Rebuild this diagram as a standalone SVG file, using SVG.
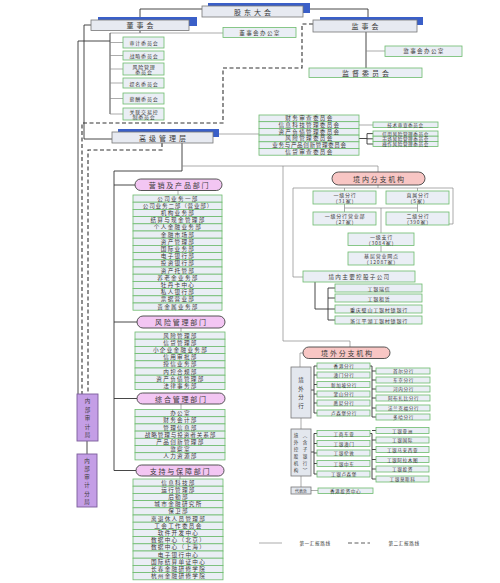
<svg xmlns="http://www.w3.org/2000/svg" width="500" height="583" viewBox="0 0 500 583">
<style>
text{font-family:"Noto Sans CJK SC","Noto Sans",sans-serif;fill:#3a3a3a;text-anchor:middle;dominant-baseline:central}
.sh{fill:#3a5fc8}
.hdr{fill:#e7eaf1;stroke:#777;stroke-width:0.8}
.g{fill:#eaeef5;stroke:#6dbb6d;stroke-width:0.8}
.gray{fill:#e3e7ee;stroke:#777;stroke-width:0.8}
.pill{fill:#f3c6f3;stroke:#444;stroke-width:0.9}
.pk{fill:#f8c6c4;stroke:#444;stroke-width:0.9}
.pur{fill:#c49ee6;stroke:#7b5c9a;stroke-width:0.9}
.ln{fill:none;stroke:#333;stroke-width:0.9}
.lg{fill:none;stroke:#888;stroke-width:0.7}
.ds{fill:none;stroke:#333;stroke-width:1.1;stroke-dasharray:4 2.5}
.h{font-size:7px;letter-spacing:3px}
.p{font-size:7px;letter-spacing:1.8px}
.r{font-size:5.6px;letter-spacing:1.3px}
.s{font-size:5px;letter-spacing:0.8px}
.t{font-size:4.6px;letter-spacing:0.6px}
.v{font-size:5.5px}
</style>

<g id="connectors">
  <polyline class="ln" points="202,9 140,9 140,17"/>
  <polyline class="ln" points="303,9 368,9 368,17"/>
  <line class="ln" x1="140" y1="30.5" x2="140" y2="33"/>
  <line class="lg" x1="110" y1="33" x2="223" y2="33"/>
  <line class="ln" x1="366" y1="32" x2="366" y2="68"/>
  <line class="lg" x1="366" y1="51" x2="385" y2="51"/>
  <line class="ln" x1="110" y1="33" x2="110" y2="114"/>
  <line class="lg" x1="110" y1="42.5" x2="123" y2="42.5"/>
  <line class="lg" x1="110" y1="55.5" x2="123" y2="55.5"/>
  <line class="lg" x1="110" y1="69" x2="123" y2="69"/>
  <line class="lg" x1="110" y1="83" x2="123" y2="83"/>
  <line class="lg" x1="110" y1="98.5" x2="123" y2="98.5"/>
  <line class="lg" x1="110" y1="114" x2="123" y2="114"/>
  <polyline class="ln" points="91,25 84,25 84,139 112,139"/>
  <polyline class="ln" points="110,41 78,41 78,394"/>
  <polyline class="ds" points="313,24 302,24 302,68 223,68 223,123 82,123 82,394"/>
  <polyline class="ds" points="162,143 162,150 88,150 88,394"/>
  <line class="ln" x1="87" y1="441" x2="87" y2="454"/>
  <line class="lg" x1="213" y1="134" x2="259" y2="134"/>
  <line class="lg" x1="359" y1="125" x2="373" y2="125"/>
  <polyline class="ln" points="359,138.5 367,138.5"/>
  <line class="ln" x1="367" y1="133.6" x2="367" y2="144"/>
  <line class="ln" x1="367" y1="133.6" x2="373" y2="133.6"/>
  <line class="ln" x1="367" y1="138.8" x2="373" y2="138.8"/>
  <line class="ln" x1="367" y1="144" x2="373" y2="144"/>
  <polyline class="ln" points="182,143 182,171 114,171 114,470.5"/>
  <polyline class="lg" points="182,166 378,166 378,172"/>
  <line class="ln" x1="114" y1="185" x2="135" y2="185"/>
  <line class="ln" x1="114" y1="322" x2="137" y2="322"/>
  <line class="ln" x1="114" y1="398.5" x2="137" y2="398.5"/>
  <line class="ln" x1="114" y1="470.5" x2="136" y2="470.5"/>
  <line class="lg" x1="178" y1="190" x2="178" y2="195"/>
  <line class="lg" x1="181" y1="328" x2="181" y2="332"/>
  <line class="lg" x1="181" y1="404" x2="181" y2="409.5"/>
  <line class="lg" x1="180" y1="476" x2="180" y2="479"/>
  <polyline class="lg" points="283,166 283,341 350,341 350,347"/>
  <line class="lg" x1="378" y1="185" x2="378" y2="188"/>
  <line class="lg" x1="293" y1="188" x2="453" y2="188"/>
  <line class="lg" x1="344.5" y1="188" x2="344.5" y2="191"/>
  <line class="lg" x1="417.5" y1="188" x2="417.5" y2="191"/>
  <polyline class="lg" points="453,188 453,224 449,224"/>
  <line class="lg" x1="344.5" y1="204" x2="344.5" y2="212"/>
  <line class="lg" x1="344.5" y1="208" x2="417.5" y2="208"/>
  <line class="lg" x1="417.5" y1="204" x2="417.5" y2="212"/>
  <line class="lg" x1="381" y1="208" x2="381" y2="233"/>
  <line class="lg" x1="381" y1="245.5" x2="381" y2="252"/>
  <polyline class="lg" points="293,188 293,277 303,277"/>
  <polyline class="ln" points="315,282 315,309 328,309"/>
  <line class="ln" x1="328" y1="288" x2="328" y2="320"/>
  <line class="ln" x1="328" y1="288" x2="335" y2="288"/>
  <line class="ln" x1="328" y1="298" x2="335" y2="298"/>
  <line class="ln" x1="328" y1="309" x2="335" y2="309"/>
  <line class="ln" x1="328" y1="320" x2="335" y2="320"/>
  <polyline class="lg" points="303,353 300,353 300,367"/>
  <line class="lg" x1="301" y1="418" x2="301" y2="429"/>
  <line class="lg" x1="301" y1="476" x2="301" y2="487"/>
  <line class="lg" x1="311" y1="490.5" x2="318" y2="490.5"/>
  <line class="ln" x1="314" y1="366" x2="314" y2="413"/>
  <line class="ln" x1="314" y1="366" x2="317" y2="366"/>
  <line class="ln" x1="314" y1="375" x2="317" y2="375"/>
  <line class="ln" x1="314" y1="384.5" x2="317" y2="384.5"/>
  <line class="ln" x1="314" y1="394" x2="317" y2="394"/>
  <line class="ln" x1="314" y1="403" x2="317" y2="403"/>
  <line class="ln" x1="314" y1="413" x2="317" y2="413"/>
  <line class="ln" x1="311" y1="390" x2="314" y2="390"/>
  <polyline class="ln" points="370,366 372,366 372,417"/>
  <line class="ln" x1="372" y1="371" x2="376" y2="371"/>
  <line class="ln" x1="372" y1="380" x2="376" y2="380"/>
  <line class="ln" x1="372" y1="389" x2="376" y2="389"/>
  <line class="ln" x1="372" y1="398" x2="376" y2="398"/>
  <line class="ln" x1="372" y1="408" x2="376" y2="408"/>
  <line class="ln" x1="372" y1="417" x2="376" y2="417"/>
  <line class="ln" x1="314" y1="433.5" x2="314" y2="474"/>
  <line class="ln" x1="311" y1="452" x2="314" y2="452"/>
  <line class="ln" x1="314" y1="433.5" x2="317" y2="433.5"/>
  <line class="ln" x1="314" y1="443.5" x2="317" y2="443.5"/>
  <line class="ln" x1="314" y1="453" x2="317" y2="453"/>
  <line class="ln" x1="314" y1="463.5" x2="317" y2="463.5"/>
  <line class="ln" x1="314" y1="474" x2="317" y2="474"/>
  <polyline class="ln" points="370,433.5 372,433.5 372,479"/>
  <line class="ln" x1="372" y1="430.5" x2="376" y2="430.5"/>
  <line class="ln" x1="372" y1="440" x2="376" y2="440"/>
  <line class="ln" x1="372" y1="449.5" x2="376" y2="449.5"/>
  <line class="ln" x1="372" y1="459.5" x2="376" y2="459.5"/>
  <line class="ln" x1="372" y1="469" x2="376" y2="469"/>
  <line class="ln" x1="372" y1="479" x2="376" y2="479"/>
</g>

<g id="gudong">
  <rect class="sh" x="208" y="3" width="102" height="10"/>
  <rect class="hdr" x="202" y="6" width="101" height="11"/>
  <text class="h" x="254" y="11.8">股东大会</text>
</g>
<g id="dongshihui">
  <rect class="sh" x="98" y="17" width="99" height="9"/>
  <rect class="hdr" x="91" y="20" width="98" height="10.5"/>
  <text class="h" x="141.5" y="25.3">董事会</text>
</g>
<g id="jianshihui">
  <rect class="sh" x="320" y="17" width="103" height="8"/>
  <rect class="hdr" x="313" y="20" width="104" height="12"/>
  <text class="h" x="366.5" y="26">监事会</text>
</g>
<g id="dsh-office">
  <rect class="g" x="223" y="27.5" width="73" height="10"/>
  <text class="r" x="260" y="32.5">董事会办公室</text>
</g>
<g id="jsh-office">
  <rect class="g" x="385" y="46" width="77" height="10.5"/>
  <text class="r" x="424" y="51.3">监事会办公室</text>
</g>
<g id="jiandu">
  <rect class="g" x="309" y="68" width="113" height="9.5"/>
  <text class="h" x="367" y="72.8">监督委员会</text>
</g>

<g id="committees">
  <rect class="g" x="123" y="37" width="41" height="11"/>
  <text class="s" x="144" y="42.5">审计委员会</text>
  <rect class="g" x="123" y="51" width="41" height="9"/>
  <text class="s" x="144" y="55.5">战略委员会</text>
  <rect class="g" x="123" y="63" width="41" height="12"/>
  <text class="s" x="144" y="66.3">风险管理</text>
  <text class="s" x="144" y="71.8">委员会</text>
  <rect class="g" x="123" y="78" width="41" height="10"/>
  <text class="s" x="144" y="83">提名委员会</text>
  <rect class="g" x="123" y="93" width="41" height="11"/>
  <text class="s" x="144" y="98.5">薪酬委员会</text>
  <rect class="g" x="123" y="108" width="41" height="12"/>
  <text class="s" x="144" y="111.3">关联交易控</text>
  <text class="s" x="144" y="116.8">制委员会</text>
</g>

<g id="gaoguan">
  <rect class="sh" x="118" y="129" width="101" height="8"/>
  <rect class="hdr" x="112" y="132" width="101" height="11"/>
  <text class="h" x="164" y="137.5">高级管理层</text>
</g>

<g id="mgmt-committees">
  <rect class="g" x="259" y="115" width="100" height="6.7"/>
  <rect class="g" x="259" y="121.7" width="100" height="6.7"/>
  <rect class="g" x="259" y="128.4" width="100" height="6.7"/>
  <rect class="g" x="259" y="135.1" width="100" height="6.7"/>
  <rect class="g" x="259" y="141.8" width="100" height="6.7"/>
  <rect class="g" x="259" y="148.5" width="100" height="6.7"/>
  <text class="r" x="309.5" y="118.35">财务审查委员会</text>
  <text class="r" x="309.5" y="125.05">信息科技管理委员会</text>
  <text class="r" x="309.5" y="131.75">资产负债管理委员会</text>
  <text class="r" x="309.5" y="138.45">风险管理委员会</text>
  <text class="r" x="309.5" y="145.15" style="letter-spacing:0.6px">业务与产品创新管理委员会</text>
  <text class="r" x="309.5" y="151.85">信贷审查委员会</text>
</g>
<g id="tech-committee">
  <rect class="g" x="373" y="122" width="65" height="5.5"/>
  <text class="t" x="405.5" y="124.8">技术审查委员会</text>
</g>
<g id="risk-subcommittees">
  <rect class="g" x="373" y="131" width="65" height="5.2"/>
  <rect class="g" x="373" y="136.2" width="65" height="5.2"/>
  <rect class="g" x="373" y="141.4" width="65" height="5.2"/>
  <text class="t" x="405.5" y="133.6">信用风险管理委员会</text>
  <text class="t" x="405.5" y="138.8">市场风险管理委员会</text>
  <text class="t" x="405.5" y="144">操作风险管理委员会</text>
</g>

<g id="yingxiao">
  <rect class="pill" x="135" y="179" width="87" height="11.5" rx="5.75"/>
  <text class="p" x="179.5" y="184.8">营销及产品部门</text>
  <g>
    <rect class="g" x="133" y="195" width="89" height="7.2"/>
    <rect class="g" x="133" y="202.2" width="89" height="7.2"/>
    <rect class="g" x="133" y="209.4" width="89" height="7.2"/>
    <rect class="g" x="133" y="216.6" width="89" height="7.2"/>
    <rect class="g" x="133" y="223.8" width="89" height="7.2"/>
    <rect class="g" x="133" y="231" width="89" height="7.2"/>
    <rect class="g" x="133" y="238.2" width="89" height="7.2"/>
    <rect class="g" x="133" y="245.4" width="89" height="7.2"/>
    <rect class="g" x="133" y="252.6" width="89" height="7.2"/>
    <rect class="g" x="133" y="259.8" width="89" height="7.2"/>
    <rect class="g" x="133" y="267" width="89" height="7.2"/>
    <rect class="g" x="133" y="274.2" width="89" height="7.2"/>
    <rect class="g" x="133" y="281.4" width="89" height="7.2"/>
    <rect class="g" x="133" y="288.6" width="89" height="7.2"/>
    <rect class="g" x="133" y="295.8" width="89" height="7.2"/>
    <rect class="g" x="133" y="303" width="89" height="7.2"/>
  </g>
  <text class="r" x="178" y="198.6">公司业务一部</text>
  <text class="r" x="178" y="205.8" style="letter-spacing:0.8px">公司业务二部（营业部）</text>
  <text class="r" x="178" y="213">机构业务部</text>
  <text class="r" x="178" y="220.2">结算与现金管理部</text>
  <text class="r" x="178" y="227.4">个人金融业务部</text>
  <text class="r" x="178" y="234.6">金融市场部</text>
  <text class="r" x="178" y="241.8">资产管理部</text>
  <text class="r" x="178" y="249">国际业务部</text>
  <text class="r" x="178" y="256.2">电子银行部</text>
  <text class="r" x="178" y="263.4">投资银行部</text>
  <text class="r" x="178" y="270.6">资产托管部</text>
  <text class="r" x="178" y="277.8">养老金业务部</text>
  <text class="r" x="178" y="285">牡丹卡中心</text>
  <text class="r" x="178" y="292.2">私人银行部</text>
  <text class="r" x="178" y="299.4">票据营业部</text>
  <text class="r" x="178" y="306.6">贵金属业务部</text>
</g>

<g id="fengxian">
  <rect class="pill" x="137" y="316" width="88" height="12" rx="6"/>
  <text class="p" x="181.5" y="322">风险管理部门</text>
  <g>
    <rect class="g" x="135" y="332" width="90" height="7.2"/>
    <rect class="g" x="135" y="339.2" width="90" height="7.2"/>
    <rect class="g" x="135" y="346.4" width="90" height="7.2"/>
    <rect class="g" x="135" y="353.6" width="90" height="7.2"/>
    <rect class="g" x="135" y="360.8" width="90" height="7.2"/>
    <rect class="g" x="135" y="368" width="90" height="7.2"/>
    <rect class="g" x="135" y="375.2" width="90" height="7.2"/>
    <rect class="g" x="135" y="382.4" width="90" height="7.2"/>
  </g>
  <text class="r" x="180.5" y="335.6">风险管理部</text>
  <text class="r" x="180.5" y="342.8">信贷管理部</text>
  <text class="r" x="180.5" y="350">小企业金融业务部</text>
  <text class="r" x="180.5" y="357.2">信用审批部</text>
  <text class="r" x="180.5" y="364.4">授信业务部</text>
  <text class="r" x="180.5" y="371.6">内控合规部</text>
  <text class="r" x="180.5" y="378.8">资产负债管理部</text>
  <text class="r" x="180.5" y="386">法律事务部</text>
</g>

<g id="zonghe">
  <rect class="pill" x="137" y="393" width="88" height="11" rx="5.5"/>
  <text class="p" x="181.5" y="398.5">综合管理部门</text>
  <g>
    <rect class="g" x="135" y="409.5" width="90" height="7.2"/>
    <rect class="g" x="135" y="416.7" width="90" height="7.2"/>
    <rect class="g" x="135" y="423.9" width="90" height="7.2"/>
    <rect class="g" x="135" y="431.1" width="90" height="7.2"/>
    <rect class="g" x="135" y="438.3" width="90" height="7.2"/>
    <rect class="g" x="135" y="445.5" width="90" height="7.2"/>
    <rect class="g" x="135" y="452.7" width="90" height="7.2"/>
  </g>
  <text class="r" x="180.5" y="413.1">办公室</text>
  <text class="r" x="180.5" y="420.3">财务会计部</text>
  <text class="r" x="180.5" y="427.5">管理信息部</text>
  <text class="r" x="180.5" y="434.7" style="letter-spacing:0.9px">战略管理与投资者关系部</text>
  <text class="r" x="180.5" y="441.9">产品创新管理部</text>
  <text class="r" x="180.5" y="449.1">监察室</text>
  <text class="r" x="180.5" y="456.3">人力资源部</text>
</g>

<g id="zhichi">
  <rect class="pill" x="136" y="465" width="88" height="11" rx="5.5"/>
  <text class="p" x="180.5" y="470.5">支持与保障部门</text>
  <g>
    <rect class="g" x="133" y="479" width="90" height="7.2"/>
    <rect class="g" x="133" y="486.2" width="90" height="7.2"/>
    <rect class="g" x="133" y="493.4" width="90" height="7.2"/>
    <rect class="g" x="133" y="500.6" width="90" height="7.2"/>
    <rect class="g" x="133" y="507.8" width="90" height="7.2"/>
    <rect class="g" x="133" y="515" width="90" height="7.2"/>
    <rect class="g" x="133" y="522.2" width="90" height="7.2"/>
    <rect class="g" x="133" y="529.4" width="90" height="7.2"/>
    <rect class="g" x="133" y="536.6" width="90" height="7.2"/>
    <rect class="g" x="133" y="543.8" width="90" height="7.2"/>
    <rect class="g" x="133" y="551" width="90" height="7.2"/>
    <rect class="g" x="133" y="558.2" width="90" height="7.2"/>
    <rect class="g" x="133" y="565.4" width="90" height="7.2"/>
    <rect class="g" x="133" y="572.6" width="90" height="7.2"/>
  </g>
  <text class="r" x="178.5" y="482.6">信息科技部</text>
  <text class="r" x="178.5" y="489.8">运行管理部</text>
  <text class="r" x="178.5" y="497">后勤部</text>
  <text class="r" x="178.5" y="504.2">城市金融研究所</text>
  <text class="r" x="178.5" y="511.4">保卫部</text>
  <text class="r" x="178.5" y="518.6">离退休人员管理部</text>
  <text class="r" x="178.5" y="525.8">工会工作委员会</text>
  <text class="r" x="178.5" y="533">软件开发中心</text>
  <text class="r" x="178.5" y="540.2">数据中心（北京）</text>
  <text class="r" x="178.5" y="547.4">数据中心（上海）</text>
  <text class="r" x="178.5" y="554.6">电子银行中心</text>
  <text class="r" x="178.5" y="561.8">国际结算单证中心</text>
  <text class="r" x="178.5" y="569">长春金融研修学院</text>
  <text class="r" x="178.5" y="576.2">杭州金融研修学院</text>
</g>

<g id="audit">
  <rect class="pur" x="77" y="394" width="21" height="47"/>
  <text class="v"><tspan x="87.5" y="401">内</tspan><tspan x="87.5" y="409.5">部</tspan><tspan x="87.5" y="418">审</tspan><tspan x="87.5" y="426.5">计</tspan><tspan x="87.5" y="435">局</tspan></text>
</g>
<g id="audit-branch">
  <rect class="pur" x="77" y="454" width="20" height="53"/>
  <text class="v"><tspan x="87" y="460.5">内</tspan><tspan x="87" y="468.8">部</tspan><tspan x="87" y="477.1">审</tspan><tspan x="87" y="485.4">计</tspan><tspan x="87" y="493.7">分</tspan><tspan x="87" y="502">局</tspan></text>
</g>

<g id="jingnei">
  <rect class="pk" x="332" y="172" width="93" height="13" rx="6.5"/>
  <text class="p" x="379.5" y="178.5">境内分支机构</text>
</g>
<g id="domestic-branches">
  <rect class="g" x="313" y="191" width="63" height="13"/>
  <text class="s" x="345" y="194.8">一级分行</text>
  <text class="s" x="345" y="200.5">（31家）</text>
  <rect class="g" x="386" y="191" width="63" height="13"/>
  <text class="s" x="418" y="194.8">直属分行</text>
  <text class="s" x="418" y="200.5">（5家）</text>
  <rect class="g" x="313" y="212" width="63" height="13"/>
  <text class="s" x="345" y="215.8">一级分行营业部</text>
  <text class="s" x="345" y="221.5">（27家）</text>
  <rect class="g" x="386" y="212" width="63" height="13"/>
  <text class="s" x="418" y="215.8">二级分行</text>
  <text class="s" x="418" y="221.5">（390家）</text>
  <rect class="g" x="348" y="233" width="66" height="12.5"/>
  <text class="s" x="381.5" y="236.6">一级支行</text>
  <text class="s" x="381.5" y="242.2">（3084家）</text>
  <rect class="g" x="348" y="252" width="66" height="13"/>
  <text class="s" x="381.5" y="255.8">基层营业网点</text>
  <text class="s" x="381.5" y="261.5">（12087家）</text>
</g>
<g id="domestic-subsidiaries">
  <rect class="g" x="303" y="271" width="112" height="11"/>
  <text class="r" x="359.5" y="276.5">境内主要控股子公司</text>
  <rect class="g" x="335" y="284" width="87" height="8"/>
  <text class="s" x="379" y="288">工银瑞信</text>
  <rect class="g" x="335" y="294" width="87" height="8"/>
  <text class="s" x="379" y="298">工银租赁</text>
  <rect class="g" x="335" y="305" width="87" height="8"/>
  <text class="s" x="379" y="309">重庆璧山工银村镇银行</text>
  <rect class="g" x="335" y="316" width="87" height="8"/>
  <text class="s" x="379" y="320">浙江平湖工银村镇银行</text>
</g>

<g id="jingwai">
  <rect class="pk" x="303" y="347" width="87" height="11.5" rx="5.75"/>
  <text class="p" x="347.5" y="352.8">境外分支机构</text>
</g>
<g id="overseas-branches">
  <rect class="gray" x="291" y="367" width="20" height="51"/>
  <text class="v"><tspan x="301" y="380">境</tspan><tspan x="301" y="388.5">外</tspan><tspan x="301" y="397">分</tspan><tspan x="301" y="405.5">行</tspan></text>
  <rect class="g" x="317" y="363" width="53" height="6"/>
  <text class="t" x="344" y="366">香港分行</text>
  <rect class="g" x="317" y="372" width="53" height="6"/>
  <text class="t" x="344" y="375">澳门分行</text>
  <rect class="g" x="317" y="381.5" width="53" height="6"/>
  <text class="t" x="344" y="384.5">新加坡分行</text>
  <rect class="g" x="317" y="391" width="53" height="6"/>
  <text class="t" x="344" y="394">釜山分行</text>
  <rect class="g" x="317" y="400" width="53" height="6"/>
  <text class="t" x="344" y="403">悉尼分行</text>
  <rect class="g" x="317" y="410" width="53" height="6"/>
  <text class="t" x="344" y="413">卢森堡分行</text>
  <rect class="g" x="376" y="368" width="54" height="6"/>
  <text class="t" x="403.5" y="371">首尔分行</text>
  <rect class="g" x="376" y="377" width="54" height="6"/>
  <text class="t" x="403.5" y="380">东京分行</text>
  <rect class="g" x="376" y="386" width="54" height="6"/>
  <text class="t" x="403.5" y="389">河内分行</text>
  <rect class="g" x="376" y="395" width="54" height="6"/>
  <text class="t" x="403.5" y="398">阿布扎比分行</text>
  <rect class="g" x="376" y="405" width="54" height="6"/>
  <text class="t" x="403.5" y="408">法兰克福分行</text>
  <rect class="g" x="376" y="414" width="54" height="6"/>
  <text class="t" x="403.5" y="417">多哈分行</text>
</g>
<g id="overseas-subsidiaries">
  <rect class="gray" x="291" y="429" width="20" height="47"/>
  <text style="font-size:4.5px"><tspan x="296" y="434.5">境</tspan><tspan x="296" y="441.5">外</tspan><tspan x="296" y="448.5">控</tspan><tspan x="296" y="455.5">股</tspan><tspan x="296" y="462.5">机</tspan><tspan x="296" y="469.5">构</tspan></text>
  <text style="font-size:4.5px"><tspan x="305" y="434.5">︵</tspan><tspan x="305" y="441.5">含</tspan><tspan x="305" y="448.5">子</tspan><tspan x="305" y="455.5">银</tspan><tspan x="305" y="462.5">行</tspan><tspan x="305" y="469.5">︶</tspan></text>
  <rect class="g" x="317" y="430.5" width="53" height="6"/>
  <text class="t" x="344" y="433.5">工商东亚</text>
  <rect class="g" x="317" y="440.5" width="53" height="6"/>
  <text class="t" x="344" y="443.5">工银澳门</text>
  <rect class="g" x="317" y="450" width="53" height="6"/>
  <text class="t" x="344" y="453">工银伦敦</text>
  <rect class="g" x="317" y="460.5" width="53" height="6"/>
  <text class="t" x="344" y="463.5">工银中东</text>
  <rect class="g" x="317" y="471" width="53" height="6"/>
  <text class="t" x="344" y="474">工银卢森堡</text>
  <rect class="g" x="376" y="427.5" width="53" height="6"/>
  <text class="t" x="402.5" y="430.5">工银亚洲</text>
  <rect class="g" x="376" y="437" width="53" height="6"/>
  <text class="t" x="402.5" y="440">工银国际</text>
  <rect class="g" x="376" y="446.5" width="53" height="6"/>
  <text class="t" x="402.5" y="449.5">工银马来西亚</text>
  <rect class="g" x="376" y="456.5" width="53" height="6"/>
  <text class="t" x="402.5" y="459.5">工银阿拉木图</text>
  <rect class="g" x="376" y="466" width="53" height="6"/>
  <text class="t" x="402.5" y="469">工银投资</text>
  <rect class="g" x="376" y="476" width="53" height="6"/>
  <text class="t" x="402.5" y="479">工银莫斯科</text>
</g>
<g id="rep-office">
  <rect class="gray" x="291" y="487" width="20" height="7"/>
  <text style="font-size:4px" x="301" y="490.5">代表处</text>
</g>
<g id="hk-center">
  <rect class="g" x="318" y="488" width="55" height="5.5"/>
  <text class="t" x="345.5" y="490.8">香港投资中心</text>
</g>

<g id="legend">
  <line class="lg" x1="259" y1="543" x2="282" y2="543"/>
  <text class="t" x="315" y="543">第一汇报路线</text>
  <line class="ds" x1="348" y1="543" x2="370" y2="543" style="stroke-width:0.8"/>
  <text class="t" x="404" y="543">第二汇报路线</text>
</g>
</svg>
